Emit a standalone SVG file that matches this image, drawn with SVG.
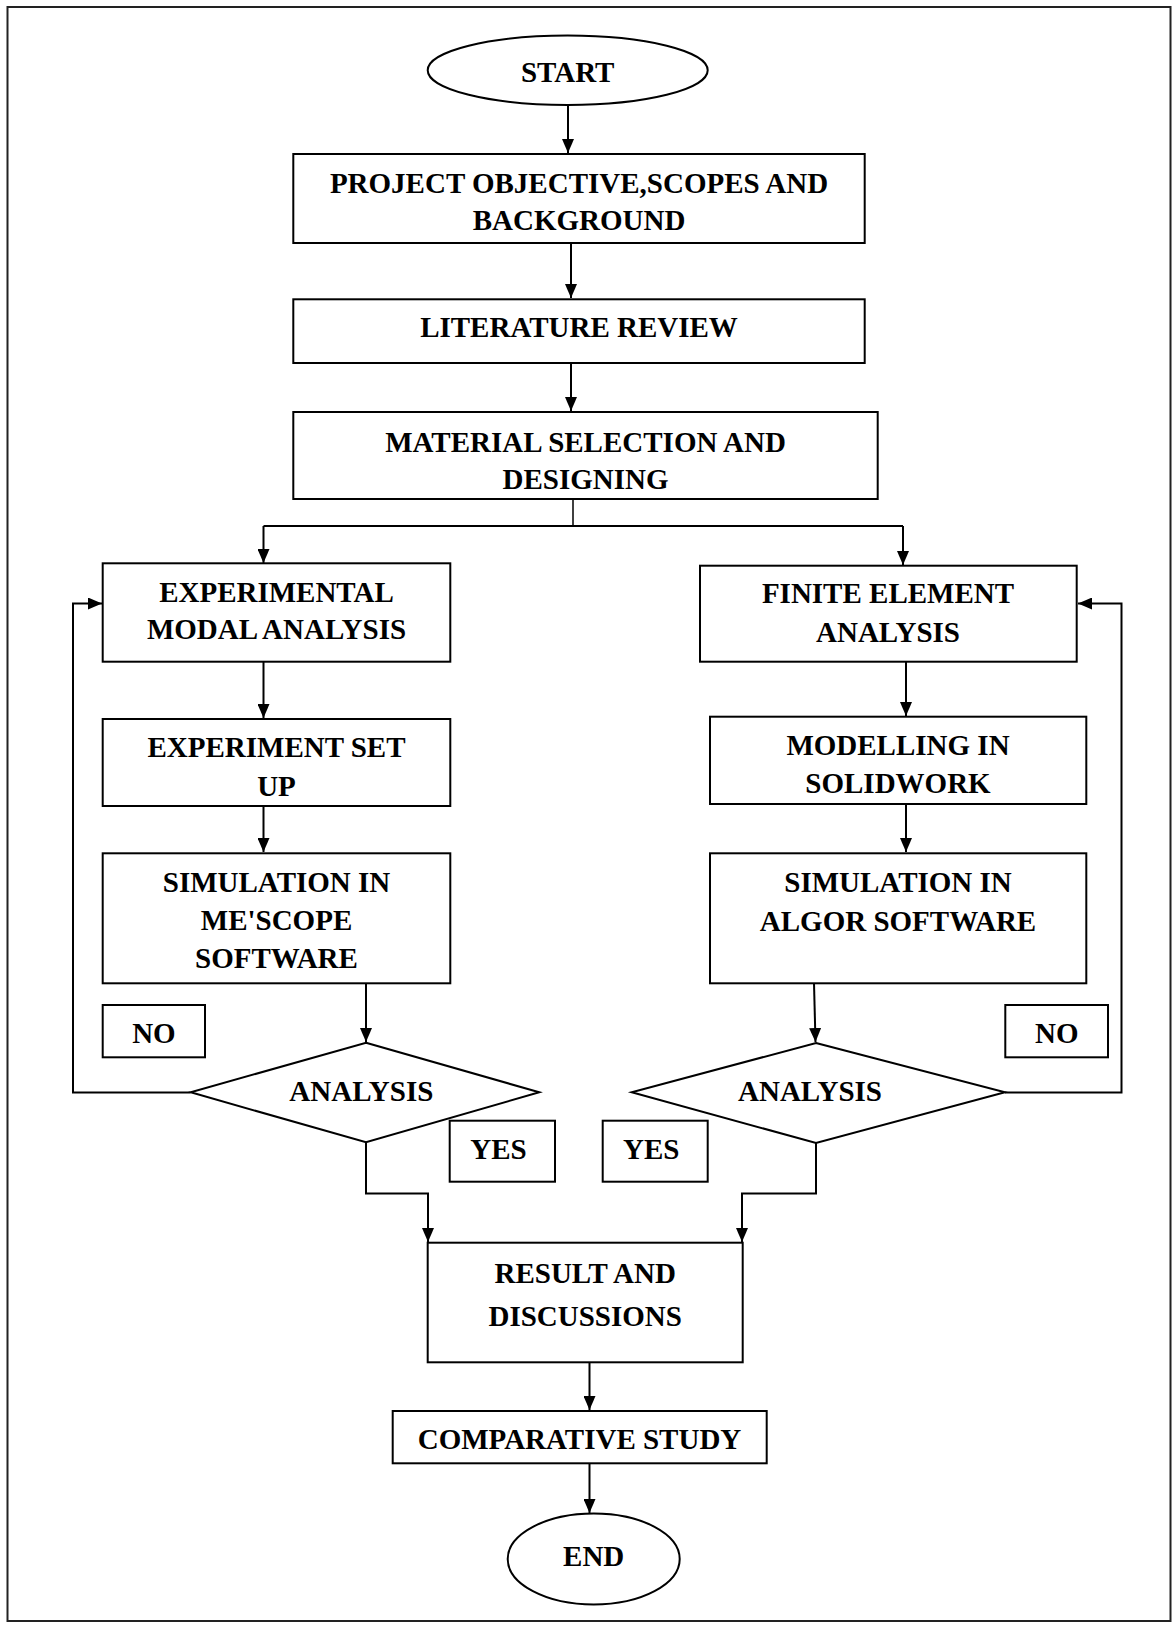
<svg xmlns="http://www.w3.org/2000/svg" width="1173" height="1627" viewBox="0 0 1173 1627">
<style>
.box{fill:#fff;stroke:#000;stroke-width:2}
.ln{fill:none;stroke:#000;stroke-width:2}
.t{font-family:"Liberation Serif","Times New Roman",serif;font-weight:bold;font-size:29px;fill:#000;text-anchor:middle}
</style>
<defs>
<marker id="ah" markerUnits="userSpaceOnUse" markerWidth="14" markerHeight="12" refX="14" refY="6" orient="auto">
<path d="M0,0 L14,6 L0,12 z" fill="#000"/>
</marker>
</defs>
<rect x="7.5" y="7" width="1163" height="1614" fill="#fff" stroke="#222" stroke-width="2"/>
<g id="connectors">
<path class="ln" d="M568,105 L568,153" marker-end="url(#ah)"/>
<path class="ln" d="M571,243 L571,298" marker-end="url(#ah)"/>
<path class="ln" d="M571,363 L571,411" marker-end="url(#ah)"/>
<path class="ln" d="M573,499 L573,526" style="stroke-width:1.5"/>
<path class="ln" d="M263.5,526 L903,526"/>
<path class="ln" d="M263.5,526 L263.5,563" marker-end="url(#ah)"/>
<path class="ln" d="M903,526 L903,565" marker-end="url(#ah)"/>
<path class="ln" d="M263.5,662 L263.5,718" marker-end="url(#ah)"/>
<path class="ln" d="M263.5,806 L263.5,852" marker-end="url(#ah)"/>
<path class="ln" d="M366,983 L366,1042" marker-end="url(#ah)"/>
<path class="ln" d="M906,662 L906,716" marker-end="url(#ah)"/>
<path class="ln" d="M906,804 L906,852" marker-end="url(#ah)"/>
<path class="ln" d="M814,983 L815.5,1042" marker-end="url(#ah)"/>
<path class="ln" d="M190.5,1092.5 L73,1092.5 L73,603.5 L102,603.5" marker-end="url(#ah)"/>
<path class="ln" d="M1005,1092.5 L1121.5,1092.5 L1121.5,603.5 L1078,603.5" marker-end="url(#ah)"/>
<path class="ln" d="M366,1142.5 L366,1193.5 L428,1193.5 L428,1242" marker-end="url(#ah)"/>
<path class="ln" d="M816,1143 L816,1193.5 L742,1193.5 L742,1242" marker-end="url(#ah)"/>
<path class="ln" d="M589.5,1362.5 L589.5,1410" marker-end="url(#ah)"/>
<path class="ln" d="M589.5,1463.5 L589.5,1513" marker-end="url(#ah)"/>
</g>
<g id="start"><ellipse class="box" cx="567.7" cy="70.3" rx="140" ry="34.7"/><text class="t" x="567.7" y="81.7">START</text></g>
<g id="project"><rect class="box" x="293.3" y="154" width="571.4" height="89"/><text class="t" x="579" y="192.7">PROJECT OBJECTIVE,SCOPES AND</text><text class="t" x="579" y="230">BACKGROUND</text></g>
<g id="literature"><rect class="box" x="293.3" y="299.3" width="571.4" height="63.7"/><text class="t" x="579" y="336.7">LITERATURE REVIEW</text></g>
<g id="material"><rect class="box" x="293.3" y="412" width="584.4" height="87"/><text class="t" x="585.5" y="451.7">MATERIAL SELECTION AND</text><text class="t" x="585.5" y="489">DESIGNING</text></g>
<g id="ema"><rect class="box" x="102.7" y="563.3" width="347.6" height="98.4"/><text class="t" x="276.5" y="601.7">EXPERIMENTAL</text><text class="t" x="276.5" y="639">MODAL ANALYSIS</text></g>
<g id="setup"><rect class="box" x="102.7" y="719" width="347.6" height="87"/><text class="t" x="276.5" y="757.3">EXPERIMENT SET</text><text class="t" x="276.5" y="796">UP</text></g>
<g id="simleft"><rect class="box" x="102.7" y="853.3" width="347.6" height="130"/><text class="t" x="276.5" y="891.7">SIMULATION IN</text><text class="t" x="276.5" y="930">ME'SCOPE</text><text class="t" x="276.5" y="968.3">SOFTWARE</text></g>
<g id="noleft"><rect class="box" x="102.7" y="1005" width="102.3" height="52.3"/><text class="t" x="153.9" y="1043">NO</text></g>
<g id="fea"><rect class="box" x="700" y="565.7" width="376.7" height="96"/><text class="t" x="888" y="603.3">FINITE ELEMENT</text><text class="t" x="888" y="642.3">ANALYSIS</text></g>
<g id="modelling"><rect class="box" x="710" y="716.7" width="376.3" height="87.3"/><text class="t" x="898" y="755">MODELLING IN</text><text class="t" x="898" y="793.3">SOLIDWORK</text></g>
<g id="simright"><rect class="box" x="710" y="853.3" width="376.3" height="130"/><text class="t" x="898" y="891.7">SIMULATION IN</text><text class="t" x="898" y="930.7">ALGOR SOFTWARE</text></g>
<g id="noright"><rect class="box" x="1005.3" y="1005" width="102.7" height="52.3"/><text class="t" x="1056.7" y="1043">NO</text></g>
<g id="analysisleft"><polygon class="box" points="366,1042.7 539.3,1092.3 366,1142.3 190.7,1092.3"/><text class="t" x="361.3" y="1100.7">ANALYSIS</text></g>
<g id="analysisright"><polygon class="box" points="816,1043 1005,1092.3 816,1143 631.7,1092.3"/><text class="t" x="810" y="1100.7">ANALYSIS</text></g>
<g id="yesleft"><rect class="box" x="449.7" y="1120.7" width="105.3" height="61"/><text class="t" x="498.5" y="1159">YES</text></g>
<g id="yesright"><rect class="box" x="602.7" y="1120.7" width="105" height="61"/><text class="t" x="651.3" y="1159">YES</text></g>
<g id="result"><rect class="box" x="427.7" y="1242.7" width="315" height="119.6"/><text class="t" x="585.2" y="1283.3">RESULT AND</text><text class="t" x="585.2" y="1325.7">DISCUSSIONS</text></g>
<g id="comparative"><rect class="box" x="392.7" y="1411" width="374" height="52.3"/><text class="t" x="579.5" y="1449.3">COMPARATIVE STUDY</text></g>
<g id="end"><ellipse class="box" cx="593.7" cy="1559" rx="86" ry="45.5"/><text class="t" x="593.7" y="1566">END</text></g>
</svg>
